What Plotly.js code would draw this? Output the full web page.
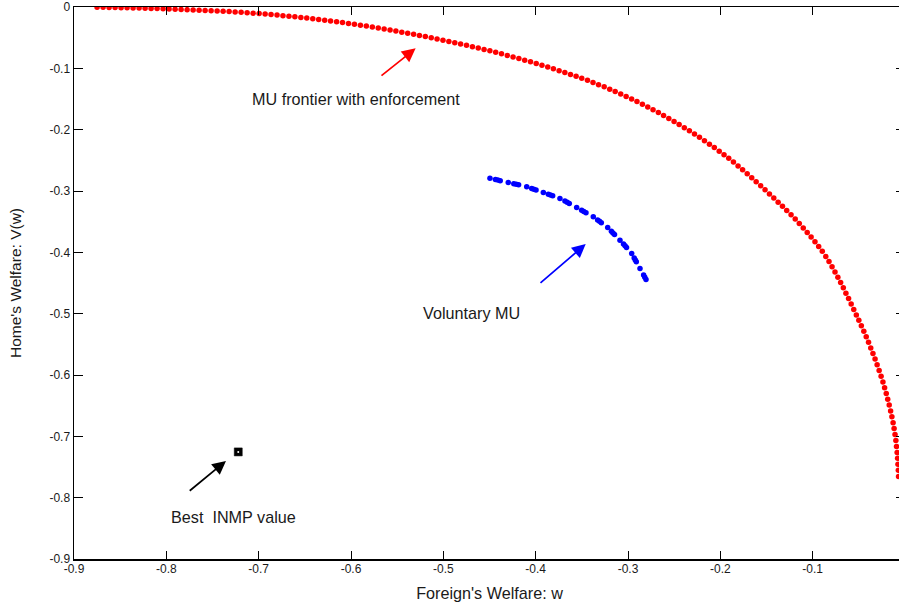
<!DOCTYPE html>
<html>
<head>
<meta charset="utf-8">
<script src="https://cdn.plot.ly/plotly-3.0.1.min.js"></script>
<style>
html,body{margin:0;padding:0;background:#fff;overflow:hidden;}
#wrap{width:899px;height:605px;overflow:hidden;position:relative;}
#chart{width:910px;height:605px;}
</style>
</head>
<body>
<div id="wrap"><div id="chart"></div></div>
<script>
// MU frontier with enforcement (red)
const frontierW = [
-0.875,-0.8685,-0.862,-0.8555,-0.849,-0.8425,-0.836,-0.8295,-0.823,-0.8165,-0.810,-0.8035,
-0.797,-0.7905,-0.784,-0.7775,-0.771,-0.7645,-0.758,-0.7515,-0.745,-0.7385,-0.732,-0.7255,-0.719,-0.7125,-0.706,-0.6995,
-0.693,-0.6866,-0.6801,-0.6737,-0.6672,-0.6608,-0.6543,-0.6479,-0.6414,-0.635,-0.6285,-0.6221,-0.6156,-0.6092,-0.6027,-0.5963,-0.5898,-0.5834,-0.5769,-0.5705,
-0.5641,-0.5577,-0.5514,-0.545,-0.5386,-0.5322,-0.5259,-0.5195,-0.5131,-0.5068,-0.5004,-0.494,-0.4876,-0.4813,-0.4749,-0.4685,-0.4622,
-0.4559,-0.4496,-0.4433,-0.4370,-0.4307,-0.4245,-0.4182,-0.4119,-0.4056,-0.3994,-0.3932,-0.3869,-0.3808,-0.3746,-0.3684,-0.3623,-0.3562,
-0.3501,-0.3439,-0.3379,-0.3319,-0.3258,-0.3198,-0.3139,-0.3079,-0.3020,-0.2961,-0.2903,-0.2844,-0.2786,-0.2729,-0.2671,-0.2615,-0.2558,
-0.2501,-0.2446,-0.2390,-0.2335,-0.2280,-0.2226,-0.2172,-0.2118,-0.2065,-0.2012,-0.1960,-0.1909,-0.1858,-0.1808,-0.1759,-0.1709,-0.1660,
-0.1612,-0.1563,-0.1516,-0.1468,-0.1421,-0.1374,-0.1327,-0.1281,-0.1234,-0.1189,-0.1145,-0.1102,-0.1059,-0.1017,-0.0975,-0.0935,-0.0896,
-0.0858,-0.0823,-0.0790,-0.0758,-0.0727,-0.0697,-0.0668,-0.0640,-0.0611,
-0.0583,-0.0555,-0.0527,-0.0500,-0.0473,-0.0446,-0.0420,-0.0395,-0.0371,-0.0347,-0.0324,-0.0302,-0.0280,-0.0259,-0.0239,-0.0221,
-0.0203,-0.0187,-0.0171,-0.0156,-0.0142,-0.0129,-0.0118,-0.0108,-0.0099,-0.0092,-0.0085,-0.0080,-0.0076,-0.0072,-0.0070
];
const frontierV = [
-0.0005,-0.0006,-0.0008,-0.0009,-0.0011,-0.0013,-0.0015,-0.0018,-0.0020,-0.0023,-0.0026,-0.0029,
-0.0033,-0.0036,-0.0040,-0.0043,-0.0047,-0.0051,-0.0056,-0.0060,-0.0064,-0.0069,-0.0075,-0.0081,-0.0087,-0.0093,-0.0100,-0.0108,
-0.0116,-0.0124,-0.0132,-0.0141,-0.0151,-0.0160,-0.0171,-0.0181,-0.0192,-0.0203,-0.0215,-0.0227,-0.0240,-0.0253,-0.0267,-0.0281,-0.0296,-0.0310,-0.0326,-0.0342,
-0.0358,-0.0375,-0.0392,-0.0410,-0.0427,-0.0446,-0.0464,-0.0483,-0.0502,-0.0521,-0.0541,-0.0561,-0.0582,-0.0603,-0.0625,-0.0647,-0.0669,
-0.0691,-0.0715,-0.0739,-0.0764,-0.0789,-0.0814,-0.0840,-0.0867,-0.0894,-0.0921,-0.0950,-0.0979,-0.1008,-0.1038,-0.1068,-0.1099,-0.1131,
-0.1163,-0.1196,-0.1230,-0.1266,-0.1302,-0.1340,-0.1378,-0.1418,-0.1458,-0.1500,-0.1542,-0.1586,-0.1630,-0.1675,-0.1722,-0.1769,-0.1817,
-0.1866,-0.1916,-0.1967,-0.2018,-0.2071,-0.2125,-0.2180,-0.2236,-0.2292,-0.2350,-0.2409,-0.2468,-0.2529,-0.2591,-0.2654,-0.2718,-0.2783,
-0.2848,-0.2914,-0.2981,-0.3048,-0.3115,-0.3182,-0.3250,-0.3318,-0.3388,-0.3458,-0.3530,-0.3603,-0.3676,-0.3751,-0.3827,-0.3903,-0.3983,
-0.4066,-0.4149,-0.4234,-0.4319,-0.4405,-0.4492,-0.4578,-0.4666,-0.4754,
-0.4842,-0.4931,-0.5020,-0.5109,-0.5198,-0.5287,-0.5377,-0.5467,-0.5558,-0.5649,-0.5741,-0.5834,-0.5926,-0.6019,-0.6113,-0.6206,
-0.6301,-0.6396,-0.6491,-0.6587,-0.6682,-0.6778,-0.6874,-0.6971,-0.7068,-0.7165,-0.7262,-0.7359,-0.7457,-0.7555,-0.7653
];
// Voluntary MU (blue)
const voluntaryW = [
-0.4495,-0.4436,-0.4410,-0.4384,
-0.4297,-0.4237,-0.4211,-0.4185,
-0.4097,-0.4043,-0.4020,-0.3996,
-0.3917,-0.3863,-0.3840,-0.3816,
-0.3737,-0.3683,-0.3659,-0.3636,
-0.3556,-0.3502,-0.3479,-0.3455,
-0.3376,-0.3329,-0.3309,-0.3289,
-0.3220,-0.3180,-0.3163,-0.3146,
-0.3087,-0.3049,-0.3032,-0.3016,
-0.2960,-0.2933,-0.2921,-0.2910,
-0.2870,-0.2831,-0.2818,-0.2805
];
const voluntaryV = [
-0.2794,-0.2814,-0.2822,-0.2831,
-0.2860,-0.2881,-0.2891,-0.2900,
-0.2931,-0.2959,-0.2971,-0.2983,
-0.3023,-0.3052,-0.3065,-0.3078,
-0.3121,-0.3165,-0.3184,-0.3203,
-0.3268,-0.3314,-0.3334,-0.3354,
-0.3421,-0.3473,-0.3495,-0.3518,
-0.3594,-0.3656,-0.3683,-0.3710,
-0.3801,-0.3866,-0.3894,-0.3923,
-0.4018,-0.4092,-0.4123,-0.4155,
-0.4263,-0.4370,-0.4406,-0.4442
];
// Best INMP value (black)
const inmpW = [-0.7221];
const inmpV = [-0.7254];

const xTicks = [-0.9,-0.8,-0.7,-0.6,-0.5,-0.4,-0.3,-0.2,-0.1];
const xTickText = ['-0.9','-0.8','-0.7','-0.6','-0.5','-0.4','-0.3','-0.2','-0.1'];
const yTicks = [-0.9,-0.8,-0.7,-0.6,-0.5,-0.4,-0.3,-0.2,-0.1,0];
const yTickText = ['-0.9','-0.8','-0.7','-0.6','-0.5','-0.4','-0.3','-0.2','-0.1','0'];

const FONT = 'Liberation Sans, Arial, Helvetica, sans-serif';
const TXT = '#1a1a1a';

const traces = [
  {x: frontierW, y: frontierV, type:'scatter', mode:'markers', name:'MU frontier with enforcement',
   marker:{color:'#ff0000', size:5.5, line:{width:0}}},
  {x: voluntaryW, y: voluntaryV, type:'scatter', mode:'markers', name:'Voluntary MU',
   marker:{color:'#0000ff', size:5.5, line:{width:0}}},
  {x: inmpW, y: inmpV, type:'scatter', mode:'markers', name:'Best INMP value',
   marker:{color:'#000000', size:8, symbol:'square', line:{width:0.5,color:'#000'}}},
  {x: inmpW, y: inmpV, type:'scatter', mode:'markers', name:'Best INMP value centre', hoverinfo:'skip',
   marker:{color:'#ffffff', size:2, symbol:'circle', line:{width:0}}}
];

function arrow(tipX, tipY, tailX, tailY, color){
  return {x: tipX, y: tipY, ax: tailX, ay: tailY, xref:'x', yref:'y', axref:'x', ayref:'y',
          text:'', showarrow:true, arrowhead:2, arrowsize:1.6, arrowwidth:1.7, arrowcolor:color, standoff:0};
}
function label(x, y, t){
  return {x:x, y:y, xref:'x', yref:'y', text:t, showarrow:false,
          font:{family:FONT, size:16.2, color:TXT}, xanchor:'center', yanchor:'middle'};
}

const layout = {
  width: 910, height: 605,
  margin: {l:74, r:5, t:7, b:46},
  paper_bgcolor:'#fff', plot_bgcolor:'#fff',
  showlegend:false,
  font:{family:FONT, size:12, color:TXT},
  xaxis:{
    range:[-0.9, 0], tickvals:xTicks, ticktext:xTickText,
    ticks:'inside', ticklen:8, tickwidth:1, tickcolor:'#000',
    showline:true, linecolor:'#000', linewidth:1.5, mirror:'ticks',
    showgrid:false, zeroline:false, ticklabelstandoff:-2,
    tickfont:{family:FONT, size:12, color:TXT},
    title:{text:"Foreign's Welfare: w", font:{family:FONT, size:16.2, color:TXT}, standoff:13}
  },
  yaxis:{
    range:[-0.9, 0], tickvals:yTicks, ticktext:yTickText,
    ticks:'inside', ticklen:9, tickwidth:1, tickcolor:'#000',
    showline:true, linecolor:'#000', linewidth:1.5, mirror:'ticks',
    showgrid:false, zeroline:false,
    tickfont:{family:FONT, size:12, color:TXT},
    title:{text:"Home's Welfare: V(w)", font:{family:FONT, size:15.5, color:TXT}, standoff:24}
  },
  annotations:[
    arrow(-0.530, -0.0674, -0.5686, -0.1137, '#ff0000'),
    arrow(-0.3458, -0.3866, -0.3964, -0.4519, '#0000ff'),
    arrow(-0.7354, -0.7401, -0.7763, -0.7907, '#000000'),
    label(-0.5951, -0.1501, 'MU frontier with enforcement'),
    label(-0.469, -0.4992, 'Voluntary MU'),
    label(-0.7273, -0.832, 'Best\u00a0 INMP value')
  ]
};

Plotly.newPlot('chart', traces, layout, {displayModeBar:false, staticPlot:true});
</script>
</body>
</html>
